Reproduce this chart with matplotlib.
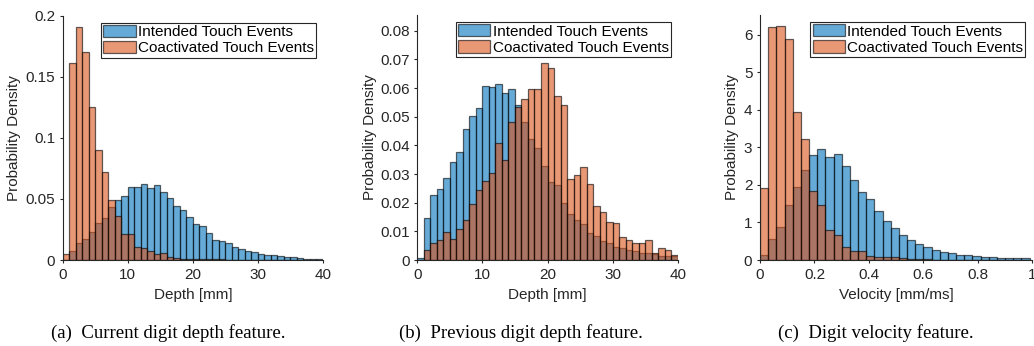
import numpy as np
import matplotlib.pyplot as plt
from matplotlib.ticker import FormatStrFormatter

plt.rcParams['font.family'] = ['Liberation Sans', 'DejaVu Sans']

# --- data (bin heights, probability density) ---
depth_bin_width = 1.0
cur_intended = [0.0003, 0.007, 0.0137, 0.017, 0.0227, 0.030, 0.034, 0.043, 0.049, 0.052,
                0.060, 0.060, 0.062, 0.059, 0.061, 0.0555, 0.051, 0.044, 0.041, 0.0355,
                0.0298, 0.028, 0.0224, 0.0164, 0.0153, 0.0142, 0.011, 0.0087, 0.0077, 0.0068,
                0.0052, 0.0038, 0.0038, 0.003, 0.0025, 0.0022, 0.0019, 0.0011, 0.0011, 0.0005]
cur_coactivated = [0.0052, 0.161, 0.191, 0.170, 0.125, 0.090, 0.072, 0.049, 0.036, 0.0216,
                   0.021, 0.011, 0.010, 0.007, 0.005, 0.006, 0.0025, 0.0016, 0.001, 0.001,
                   0.0008, 0.0008, 0.0007, 0.0006, 0.0005, 0.0004, 0.0003, 0.0002, 0.0002, 0.0002,
                   0.0001, 0.0001, 0.0001, 0.0001, 0.0001, 0.0, 0.0, 0.0, 0.0, 0.0]

prev_intended = [0.0008, 0.0146, 0.0227, 0.0249, 0.0285, 0.0343, 0.0376, 0.0456, 0.0504, 0.053,
                 0.0606, 0.0602, 0.0614, 0.0584, 0.0597, 0.054, 0.048, 0.0422, 0.0392, 0.0328,
                 0.0271, 0.0263, 0.0199, 0.0159, 0.014, 0.0126, 0.0095, 0.0083, 0.0067, 0.0061,
                 0.0046, 0.0041, 0.0036, 0.0031, 0.0023, 0.0023, 0.0021, 0.0014, 0.0015, 0.0013]
prev_coactivated = [0.0, 0.0036, 0.0059, 0.0071, 0.0099, 0.0074, 0.0109, 0.0139, 0.0196, 0.0246,
                    0.0275, 0.0304, 0.0408, 0.0349, 0.0481, 0.0535, 0.0563, 0.0598, 0.0598, 0.0686,
                    0.0669, 0.0574, 0.054, 0.0281, 0.0296, 0.0326, 0.0266, 0.0188, 0.0168, 0.0134,
                    0.0128, 0.008, 0.0071, 0.0059, 0.0059, 0.0071, 0.0024, 0.0042, 0.0036, 0.0016]

vel_bin_width = 0.03
vel_intended = [0.12, 0.57, 0.87, 1.47, 1.95, 2.39, 2.80, 2.96, 2.74, 2.83,
                2.51, 2.14, 1.81, 1.63, 1.31, 1.05, 0.84, 0.66, 0.52, 0.42,
                0.35, 0.26, 0.21, 0.18, 0.13, 0.13, 0.11, 0.08, 0.08, 0.06,
                0.05, 0.05, 0.045]
vel_coactivated = [1.91, 6.20, 6.22, 5.88, 3.94, 3.23, 1.83, 1.47, 0.80, 0.67,
                   0.35, 0.25, 0.25, 0.10, 0.07, 0.09, 0.08, 0.06, 0.03, 0.02,
                   0.02, 0.01, 0.01, 0.01, 0.005, 0.005, 0.0, 0.0, 0.0, 0.0,
                   0.0, 0.0, 0.0]

labels = ['Intended Touch Events', 'Coactivated Touch Events']
captions = ['(a)  Current digit depth feature.',
            '(b)  Previous digit depth feature.',
            '(c)  Digit velocity feature.']

BLUE = (0.0, 0.447, 0.741)
ORANGE = (0.85, 0.325, 0.098)
AXC = '#262626'

W, H = 1034, 346
fig = plt.figure(figsize=(W / 100, H / 100), dpi=100)


def make_axes(left, right, top, bottom):
    return fig.add_axes([left / W, 1 - bottom / H, (right - left) / W, (bottom - top) / H])


def draw_panel(ax, intended, coactivated, bw, xlim, ylim, yticks, xticks, xlabel, ylab_x):
    edges = np.arange(len(intended)) * bw
    b1 = ax.bar(edges, intended, width=bw, align='edge', color=BLUE, alpha=0.6,
                edgecolor='black', linewidth=0.9)
    b2 = ax.bar(edges, coactivated, width=bw, align='edge', color=ORANGE, alpha=0.6,
                edgecolor='black', linewidth=0.9)
    # keep edges nearly opaque
    for p in list(b1) + list(b2):
        p.set_edgecolor((0, 0, 0, 0.85))
    ax.set_xlim(*xlim)
    ax.set_ylim(*ylim)
    ax.set_xticks(xticks)
    ax.set_yticks(yticks)
    ax.xaxis.set_major_formatter(FormatStrFormatter('%g'))
    ax.yaxis.set_major_formatter(FormatStrFormatter('%g'))
    for s in ['top', 'right']:
        ax.spines[s].set_visible(False)
    for s in ['left', 'bottom']:
        ax.spines[s].set_color(AXC)
        ax.spines[s].set_linewidth(0.8)
    ax.tick_params(direction='out', length=2.5, width=0.8, color=AXC, labelcolor=AXC,
                   labelsize=11, pad=3)
    ax.set_xlabel(xlabel, fontsize=11, color=AXC)
    ax.set_ylabel('Probability Density', fontsize=11, color=AXC)
    ax.xaxis.set_label_coords(0.5, -0.115)
    ax.yaxis.set_label_coords(ylab_x, 0.5)
    leg = ax.legend([b1, b2], labels, loc='upper right', fontsize=11, fancybox=False,
                    framealpha=1, edgecolor=AXC, borderaxespad=0.45, borderpad=0.15,
                    labelspacing=0.12, handlelength=2.1, handleheight=0.85,
                    handletextpad=0.15)
    leg.get_frame().set_linewidth(0.8)
    for t in leg.get_texts():
        t.set_color('black')
    for h in leg.legend_handles:
        h.set_alpha(0.6)
        h.set_edgecolor('black')
        h.set_linewidth(0.9)


ax1 = make_axes(62.7, 323.0, 15.7, 260.0)
draw_panel(ax1, cur_intended, cur_coactivated, depth_bin_width, (0, 40), (0, 0.2),
           [0, 0.05, 0.1, 0.15, 0.2], [0, 10, 20, 30, 40], 'Depth [mm]', -0.16)

ax2 = make_axes(417.3, 677.7, 15.0, 260.0)
draw_panel(ax2, prev_intended, prev_coactivated, depth_bin_width, (0, 40), (0, 0.0855),
           np.arange(0, 0.081, 0.01), [0, 10, 20, 30, 40], 'Depth [mm]', -0.155)

ax3 = make_axes(760.0, 1032.3, 15.0, 260.0)
draw_panel(ax3, vel_intended, vel_coactivated, vel_bin_width, (0, 1), (0, 6.52),
           [0, 1, 2, 3, 4, 5, 6], [0, 0.2, 0.4, 0.6, 0.8, 1], 'Velocity [mm/ms]', -0.077)

for xc, cap in zip([168, 521, 876], captions):
    fig.text(xc / W, 1 - 333 / H, cap, ha='center', va='center', fontsize=13.5,
             family=['Liberation Serif', 'DejaVu Serif'], color='black')

fig.savefig('out.png', dpi=100)
